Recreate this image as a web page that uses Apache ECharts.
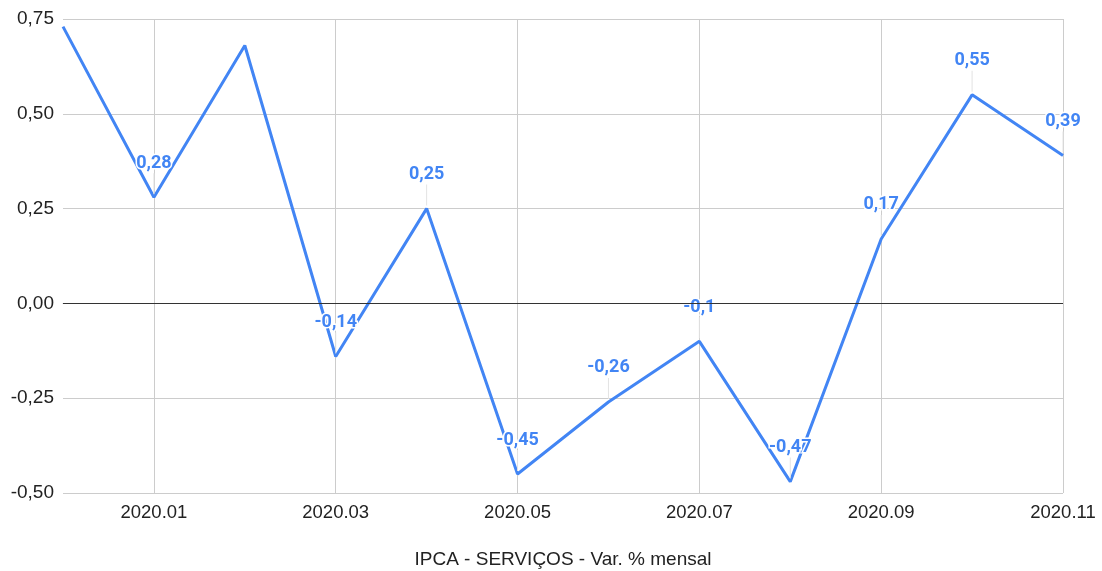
<!DOCTYPE html>
<html><head><meta charset="utf-8">
<script src="https://cdn.jsdelivr.net/npm/echarts@6/dist/echarts.min.js"></script>
<style>html,body{margin:0;padding:0;background:#fff}#c{width:1102px;height:571px}</style>
</head><body><div id="c"></div>
<script>
const categories = ['2019.12','2020.01','2020.02','2020.03','2020.04','2020.05','2020.06','2020.07','2020.08','2020.09','2020.10','2020.11'];
const values = [0.73, 0.28, 0.68, -0.14, 0.25, -0.45, -0.26, -0.1, -0.47, 0.17, 0.55, 0.39];
const showLabel = [false, true, false, true, true, true, true, true, true, true, true, true];
const yTicks = { min: -0.5, max: 0.75, interval: 0.25 };
const axisTitle = 'IPCA - SERVIÇOS - Var. % mensal';

const chart = echarts.init(document.getElementById('c'));
const data = values.map((v, i) => ({ value: v, label: { show: showLabel[i] } }));
chart.setOption({
  animation: false,
  grid: { left: 63, right: 39, top: 19, bottom: 78, containLabel: false, outerBoundsMode: 'none' },
  xAxis: {
    type: 'category', data: categories, boundaryGap: false,
    name: axisTitle, nameLocation: 'middle', nameGap: 57,
    nameTextStyle: { fontFamily: 'Liberation Sans, Arial', fontSize: 19, color: '#222' },
    axisLine: { show: true, lineStyle: { color: '#ccc', width: 1 } },
    axisTick: { show: false },
    axisLabel: { interval: (i) => i % 2 === 1, margin: 10, fontFamily: 'Liberation Sans, Arial', fontSize: 18.5, color: '#222' },
    splitLine: { show: true, interval: (i) => i % 2 === 1, lineStyle: { color: '#ccc', width: 1 } }
  },
  yAxis: {
    type: 'value', min: yTicks.min, max: yTicks.max, interval: yTicks.interval,
    axisLine: { show: false }, axisTick: { show: false },
    axisLabel: { margin: 9, fontFamily: 'Liberation Sans, Arial', fontSize: 19, color: '#222',
      formatter: (v) => v.toFixed(2).replace('.', ',') },
    splitLine: { show: true, lineStyle: { color: '#ccc', width: 1 } }
  },
  series: [{
    type: 'line', data: data, symbol: 'circle', symbolSize: 0, showSymbol: true,
    lineStyle: { color: '#4285F4', width: 3 },
    itemStyle: { color: '#4285F4' },
    label: {
      show: true, position: 'top', distance: 3,
      formatter: (p) => '{v|' + String(p.value).replace('.', ',') + '}\n{l| }',
      rich: {
        v: { align: 'center', fontFamily: 'Roboto, Arial', fontWeight: 'bold', fontSize: 18, lineHeight: 20,
             color: '#4285F4', textBorderColor: '#fff', textBorderWidth: 3 },
        l: { align: 'center', width: 1, height: 21, lineHeight: 21, fontSize: 1, backgroundColor: '#e3e3e3' }
      }
    },
    markLine: {
      silent: true, symbol: 'none', label: { show: false },
      lineStyle: { color: '#333', width: 1, type: 'solid' },
      data: [{ yAxis: 0 }]
    },
    z: 3
  }]
});
</script></body></html>
